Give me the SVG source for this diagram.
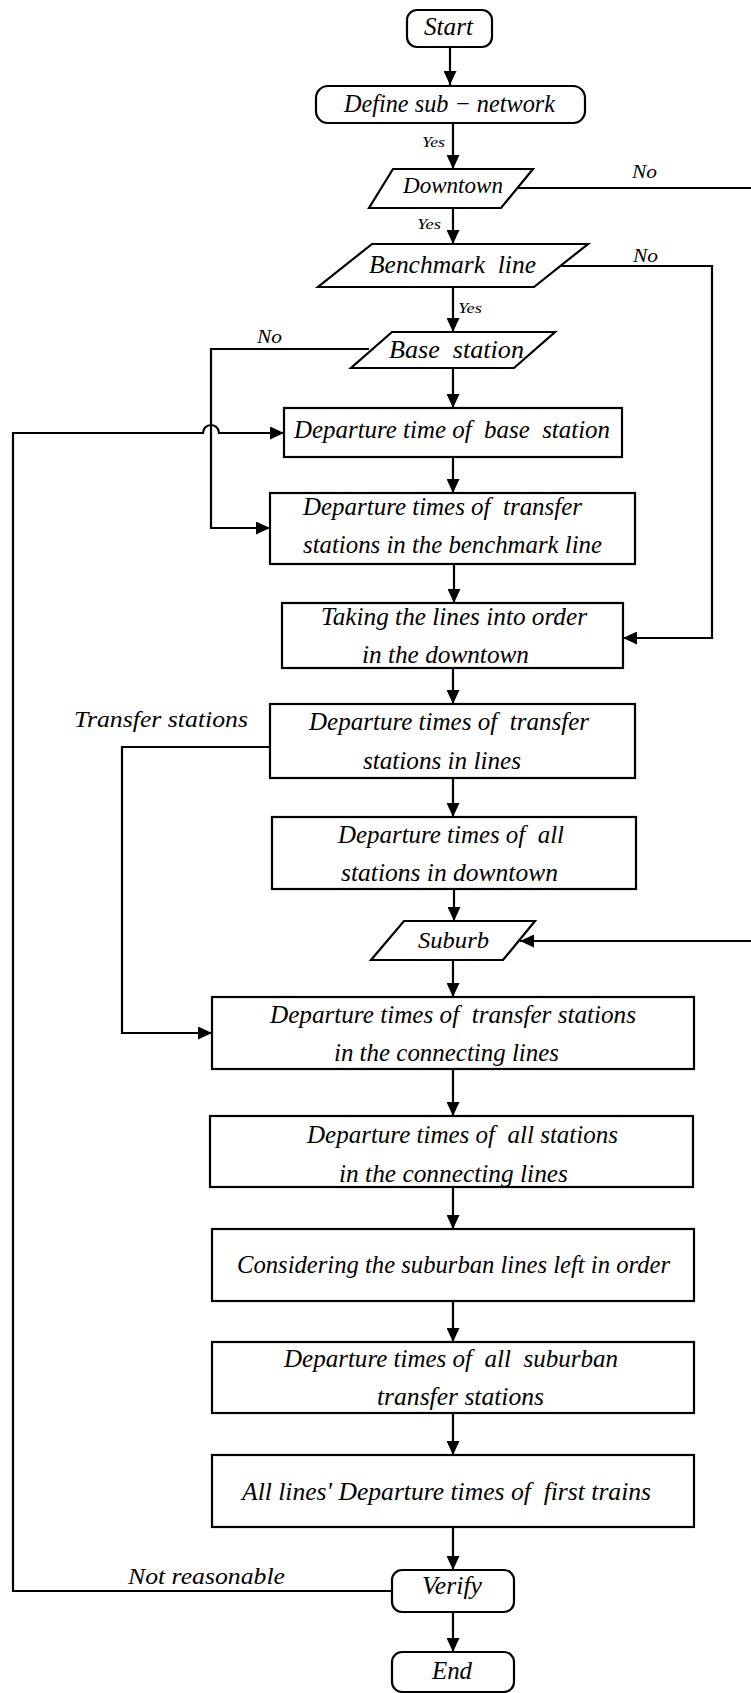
<svg xmlns="http://www.w3.org/2000/svg" width="751" height="1693" viewBox="0 0 751 1693">
<style>
  .box{fill:#fff;stroke:#000;stroke-width:2.2}
  .ln{fill:none;stroke:#000;stroke-width:2.2}
  text{font-family:"Liberation Serif","Times New Roman",serif;font-style:italic;fill:#000;white-space:pre}
  .t{font-size:25px}
  .m{font-size:23px}
  .s{font-size:15px}
  .n{font-size:18px}
</style>
<defs>
  <marker id="ah" viewBox="0 0 14 13" refX="14" refY="6.5" markerWidth="14" markerHeight="13" markerUnits="userSpaceOnUse" orient="auto">
    <path d="M0,0 L14,6.5 L0,13 z" fill="#000"/>
  </marker>
</defs>
<rect width="751" height="1693" fill="#fff"/>

<g id="connectors">
  <path class="ln" d="M450,47 V85" marker-end="url(#ah)"/>
  <path class="ln" d="M453,123 V169" marker-end="url(#ah)"/>
  <path class="ln" d="M453,208 V244" marker-end="url(#ah)"/>
  <path class="ln" d="M453,287 V332" marker-end="url(#ah)"/>
  <path class="ln" d="M453,368 V408" marker-end="url(#ah)"/>
  <path class="ln" d="M453,457 V493" marker-end="url(#ah)"/>
  <path class="ln" d="M454,564 V603" marker-end="url(#ah)"/>
  <path class="ln" d="M453,668 V704" marker-end="url(#ah)"/>
  <path class="ln" d="M453,778 V817" marker-end="url(#ah)"/>
  <path class="ln" d="M454,889 V921" marker-end="url(#ah)"/>
  <path class="ln" d="M453,960 V997" marker-end="url(#ah)"/>
  <path class="ln" d="M453,1069 V1116" marker-end="url(#ah)"/>
  <path class="ln" d="M453,1187 V1229" marker-end="url(#ah)"/>
  <path class="ln" d="M453,1301 V1342" marker-end="url(#ah)"/>
  <path class="ln" d="M453,1413 V1455" marker-end="url(#ah)"/>
  <path class="ln" d="M453,1527 V1570" marker-end="url(#ah)"/>
  <path class="ln" d="M453,1612 V1652" marker-end="url(#ah)"/>
  <path class="ln" d="M517,188 H755"/>
  <path class="ln" d="M755,941 H520" marker-end="url(#ah)"/>
  <path class="ln" d="M560,266 H712 V638 H623" marker-end="url(#ah)"/>
  <path class="ln" d="M369,349 H211 V528 H270" marker-end="url(#ah)"/>
  <path class="ln" d="M270,747 H122 V1033 H212" marker-end="url(#ah)"/>
  <path class="ln" d="M392,1591 H13 V433 H203 A8,8 0 0 1 219,433 H284" marker-end="url(#ah)"/>
  <text class="s" x="422" y="147" textLength="23" lengthAdjust="spacingAndGlyphs">Yes</text>
  <text class="s" x="417" y="229" textLength="24" lengthAdjust="spacingAndGlyphs">Yes</text>
  <text class="s" x="458" y="313" textLength="24" lengthAdjust="spacingAndGlyphs">Yes</text>
  <text class="n" x="632" y="178" textLength="25" lengthAdjust="spacingAndGlyphs">No</text>
  <text class="n" x="633" y="262" textLength="25" lengthAdjust="spacingAndGlyphs">No</text>
  <text class="n" x="257" y="343" textLength="25" lengthAdjust="spacingAndGlyphs">No</text>
  <text class="m" x="74" y="727" textLength="174" lengthAdjust="spacingAndGlyphs">Transfer stations</text>
  <text class="m" x="128" y="1584" textLength="157" lengthAdjust="spacingAndGlyphs">Not reasonable</text>
</g>

<g id="start">
  <rect class="box" x="407" y="10" width="85" height="37" rx="10"/>
  <text class="t" x="424" y="35" textLength="49" lengthAdjust="spacingAndGlyphs">Start</text>
</g>
<g id="define">
  <rect class="box" x="316" y="86" width="269" height="37" rx="12"/>
  <text class="t" x="344" y="112" textLength="211" lengthAdjust="spacingAndGlyphs">Define sub − network</text>
</g>
<g id="downtown">
  <polygon class="box" points="393,169 533,169 501,208 369,208"/>
  <text class="m" x="403" y="193" textLength="100" lengthAdjust="spacingAndGlyphs">Downtown</text>
</g>
<g id="benchmark">
  <polygon class="box" points="372,244 588,244 534,287 318,287"/>
  <text class="t" x="369" y="273" textLength="167" lengthAdjust="spacingAndGlyphs">Benchmark  line</text>
</g>
<g id="base">
  <polygon class="box" points="392,332 555,332 514,368 351,368"/>
  <text class="t" x="389" y="358" textLength="135" lengthAdjust="spacingAndGlyphs">Base  station</text>
</g>
<g id="dep-base">
  <rect class="box" x="284" y="408" width="338" height="49"/>
  <text class="t" x="294" y="438" textLength="316" lengthAdjust="spacingAndGlyphs">Departure time of  base  station</text>
</g>
<g id="dep-bench">
  <rect class="box" x="270" y="493" width="365" height="71"/>
  <text class="t" x="303" y="515" textLength="279" lengthAdjust="spacingAndGlyphs">Departure times of  transfer</text>
  <text class="t" x="303" y="553" textLength="299" lengthAdjust="spacingAndGlyphs">stations in the benchmark line</text>
</g>
<g id="taking">
  <rect class="box" x="282" y="603" width="341" height="65"/>
  <text class="t" x="321" y="625" textLength="266" lengthAdjust="spacingAndGlyphs">Taking the lines into order</text>
  <text class="t" x="362" y="663" textLength="167" lengthAdjust="spacingAndGlyphs">in the downtown</text>
</g>
<g id="dep-lines">
  <rect class="box" x="270" y="704" width="365" height="74"/>
  <text class="t" x="309" y="730" textLength="280" lengthAdjust="spacingAndGlyphs">Departure times of  transfer</text>
  <text class="t" x="363" y="769" textLength="158" lengthAdjust="spacingAndGlyphs">stations in lines</text>
</g>
<g id="dep-downtown">
  <rect class="box" x="272" y="817" width="364" height="72"/>
  <text class="t" x="338" y="843" textLength="226" lengthAdjust="spacingAndGlyphs">Departure times of  all</text>
  <text class="t" x="341" y="881" textLength="217" lengthAdjust="spacingAndGlyphs">stations in downtown</text>
</g>
<g id="suburb">
  <polygon class="box" points="404,921 535,921 503,960 371,960"/>
  <text class="m" x="418" y="948" textLength="71" lengthAdjust="spacingAndGlyphs">Suburb</text>
</g>
<g id="dep-conn-transfer">
  <rect class="box" x="212" y="997" width="482" height="72"/>
  <text class="t" x="270" y="1023" textLength="366" lengthAdjust="spacingAndGlyphs">Departure times of  transfer stations</text>
  <text class="t" x="334" y="1061" textLength="225" lengthAdjust="spacingAndGlyphs">in the connecting lines</text>
</g>
<g id="dep-conn-all">
  <rect class="box" x="210" y="1116" width="483" height="71"/>
  <text class="t" x="307" y="1143" textLength="311" lengthAdjust="spacingAndGlyphs">Departure times of  all stations</text>
  <text class="t" x="339" y="1182" textLength="229" lengthAdjust="spacingAndGlyphs">in the connecting lines</text>
</g>
<g id="considering">
  <rect class="box" x="212" y="1229" width="482" height="72"/>
  <text class="t" x="237" y="1273" textLength="433" lengthAdjust="spacingAndGlyphs">Considering the suburban lines left in order</text>
</g>
<g id="dep-suburban">
  <rect class="box" x="212" y="1342" width="482" height="71"/>
  <text class="t" x="284" y="1367" textLength="334" lengthAdjust="spacingAndGlyphs">Departure times of  all  suburban</text>
  <text class="t" x="377" y="1405" textLength="167" lengthAdjust="spacingAndGlyphs">transfer stations</text>
</g>
<g id="all-lines">
  <rect class="box" x="212" y="1455" width="482" height="72"/>
  <text class="t" x="242" y="1500" textLength="409" lengthAdjust="spacingAndGlyphs">All lines' Departure times of  first trains</text>
</g>
<g id="verify">
  <rect class="box" x="392" y="1570" width="122" height="42" rx="10"/>
  <text class="t" x="422" y="1594" textLength="60" lengthAdjust="spacingAndGlyphs">Verify</text>
</g>
<g id="end">
  <rect class="box" x="392" y="1652" width="122" height="40" rx="10"/>
  <text class="t" x="432" y="1679" textLength="40" lengthAdjust="spacingAndGlyphs">End</text>
</g>
</svg>
